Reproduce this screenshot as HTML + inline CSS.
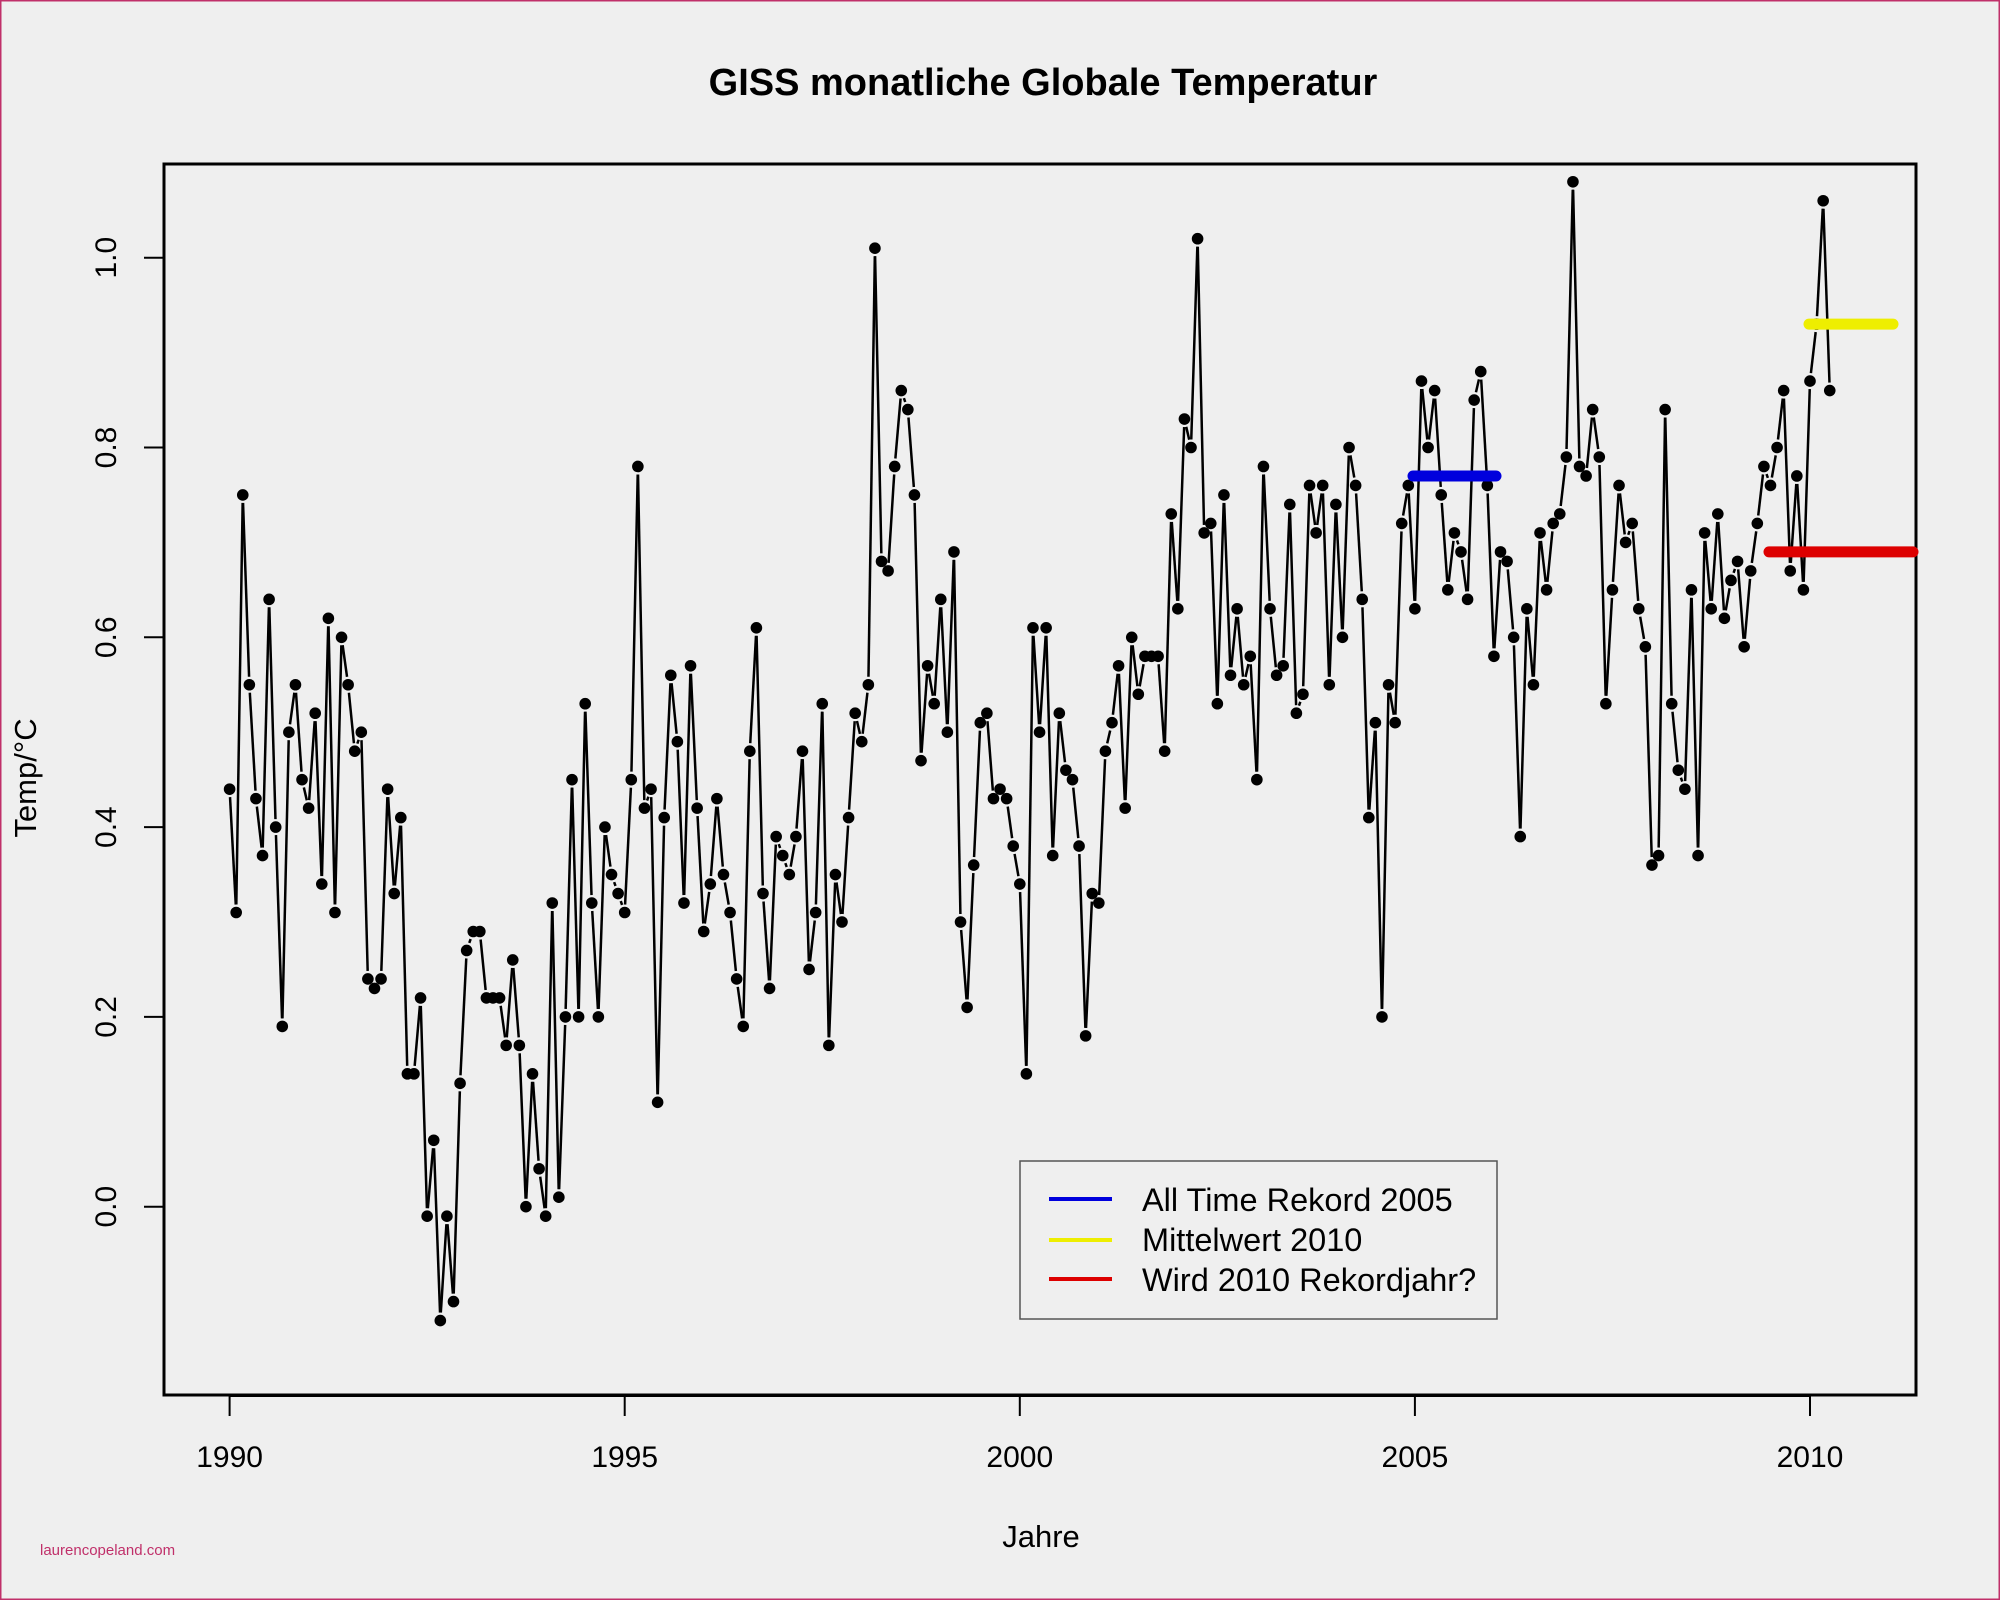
<!DOCTYPE html>
<html><head><meta charset="utf-8"><style>
html,body{margin:0;padding:0;background:#efefef;}
svg{display:block;}
text{font-family:"Liberation Sans",sans-serif;fill:#000;}
</style></head><body>
<svg id="s" width="2000" height="1600" xmlns="http://www.w3.org/2000/svg">
<rect x="0.5" y="0.5" width="1999" height="1599" fill="#efefef" stroke="#c0306a" stroke-width="2"/>
<text x="1043" y="95" font-size="38" font-weight="bold" text-anchor="middle">GISS monatliche Globale Temperatur</text>
<rect x="164" y="164" width="1752" height="1231" fill="none" stroke="#000" stroke-width="3"/>
<g id="plot"></g>
<g id="axes" stroke="#000" stroke-width="2"></g>
<g id="lab" font-size="30"></g>
<text x="1041" y="1547" font-size="31" text-anchor="middle">Jahre</text>
<text transform="translate(36,778) rotate(-90)" font-size="31" text-anchor="middle">Temp/°C</text>
<rect x="1020" y="1161" width="477" height="158" fill="#efefef" stroke="#555" stroke-width="1.5"/>
<line x1="1049" y1="1199" x2="1112" y2="1199" stroke="#0000dd" stroke-width="4"/>
<line x1="1049" y1="1240" x2="1112" y2="1240" stroke="#eeee00" stroke-width="4"/>
<line x1="1049" y1="1279" x2="1112" y2="1279" stroke="#dd0000" stroke-width="4"/>
<text x="1142" y="1211" font-size="32.5">All Time Rekord 2005</text>
<text x="1142" y="1251" font-size="32.5">Mittelwert 2010</text>
<text x="1142" y="1291" font-size="32.5">Wird 2010 Rekordjahr?</text>
<text x="40" y="1555" font-size="15" fill="#c0306a" style="fill:#c0306a">laurencopeland.com</text>
</svg>
<script>
var d=[0.44,0.31,0.75,0.55,0.43,0.37,0.64,0.40,0.19,0.50,0.55,0.45,
0.42,0.52,0.34,0.62,0.31,0.60,0.55,0.48,0.50,0.24,0.23,0.24,
0.44,0.33,0.41,0.14,0.14,0.22,-0.01,0.07,-0.12,-0.01,-0.10,0.13,
0.27,0.29,0.29,0.22,0.22,0.22,0.17,0.26,0.17,0.00,0.14,0.04,
-0.01,0.32,0.01,0.20,0.45,0.20,0.53,0.32,0.20,0.40,0.35,0.33,
0.31,0.45,0.78,0.42,0.44,0.11,0.41,0.56,0.49,0.32,0.57,0.42,
0.29,0.34,0.43,0.35,0.31,0.24,0.19,0.48,0.61,0.33,0.23,0.39,
0.37,0.35,0.39,0.48,0.25,0.31,0.53,0.17,0.35,0.30,0.41,0.52,
0.49,0.55,1.01,0.68,0.67,0.78,0.86,0.84,0.75,0.47,0.57,0.53,
0.64,0.50,0.69,0.30,0.21,0.36,0.51,0.52,0.43,0.44,0.43,0.38,
0.34,0.14,0.61,0.50,0.61,0.37,0.52,0.46,0.45,0.38,0.18,0.33,
0.32,0.48,0.51,0.57,0.42,0.60,0.54,0.58,0.58,0.58,0.48,0.73,
0.63,0.83,0.80,1.02,0.71,0.72,0.53,0.75,0.56,0.63,0.55,0.58,
0.45,0.78,0.63,0.56,0.57,0.74,0.52,0.54,0.76,0.71,0.76,0.55,
0.74,0.60,0.80,0.76,0.64,0.41,0.51,0.20,0.55,0.51,0.72,0.76,
0.63,0.87,0.80,0.86,0.75,0.65,0.71,0.69,0.64,0.85,0.88,0.76,
0.58,0.69,0.68,0.60,0.39,0.63,0.55,0.71,0.65,0.72,0.73,0.79,
1.08,0.78,0.77,0.84,0.79,0.53,0.65,0.76,0.70,0.72,0.63,0.59,
0.36,0.37,0.84,0.53,0.46,0.44,0.65,0.37,0.71,0.63,0.73,0.62,
0.66,0.68,0.59,0.67,0.72,0.78,0.76,0.80,0.86,0.67,0.77,0.65,
0.87,0.93,1.06,0.86];
var X=function(t){return 229.6+(t-1990)*79.02;},Y=function(v){return 1206.7-v*949;};
var ns="http://www.w3.org/2000/svg",g=document.getElementById('plot');
function el(p,n,a){var e=document.createElementNS(ns,n);for(var k in a)e.setAttribute(k,a[k]);p.appendChild(e);return e;}
var pts=d.map(function(v,i){return [X(1990+i/12),Y(v)];});
for(var i=0;i<pts.length-1;i++){var a=pts[i],b=pts[i+1],dx=b[0]-a[0],dy=b[1]-a[1],L=Math.sqrt(dx*dx+dy*dy);
if(L>16){var r=8/L;el(g,'line',{x1:a[0]+dx*r,y1:a[1]+dy*r,x2:b[0]-dx*r,y2:b[1]-dy*r,stroke:'#000','stroke-width':2.5});}}
pts.forEach(function(p){el(g,'circle',{cx:p[0],cy:p[1],r:5.8,fill:'#000'});});
el(g,'line',{x1:1413,y1:Y(0.77),x2:1496,y2:Y(0.77),stroke:'#0000dd','stroke-width':11,'stroke-linecap':'round'});
el(g,'line',{x1:1809,y1:Y(0.93),x2:1893,y2:Y(0.93),stroke:'#eeee00','stroke-width':11,'stroke-linecap':'round'});
el(g,'line',{x1:1769,y1:Y(0.69),x2:1913,y2:Y(0.69),stroke:'#dd0000','stroke-width':11,'stroke-linecap':'round'});
var ax=document.getElementById('axes'),lb=document.getElementById('lab');
el(ax,'line',{x1:X(1990),y1:1396,x2:X(2010),y2:1396});
[1990,1995,2000,2005,2010].forEach(function(y){var x=X(y);el(ax,'line',{x1:x,y1:1396,x2:x,y2:1416});
var t=el(lb,'text',{x:x,y:1467,'text-anchor':'middle'});t.textContent=y;});
el(ax,'line',{x1:164,y1:Y(0),x2:164,y2:Y(1)});
[0,0.2,0.4,0.6,0.8,1.0].forEach(function(v){var y=Y(v);el(ax,'line',{x1:144,y1:y,x2:164,y2:y});
var t=el(lb,'text',{transform:'translate(116,'+y+') rotate(-90)','text-anchor':'middle'});t.textContent=v.toFixed(1);});
</script>
</body></html>
